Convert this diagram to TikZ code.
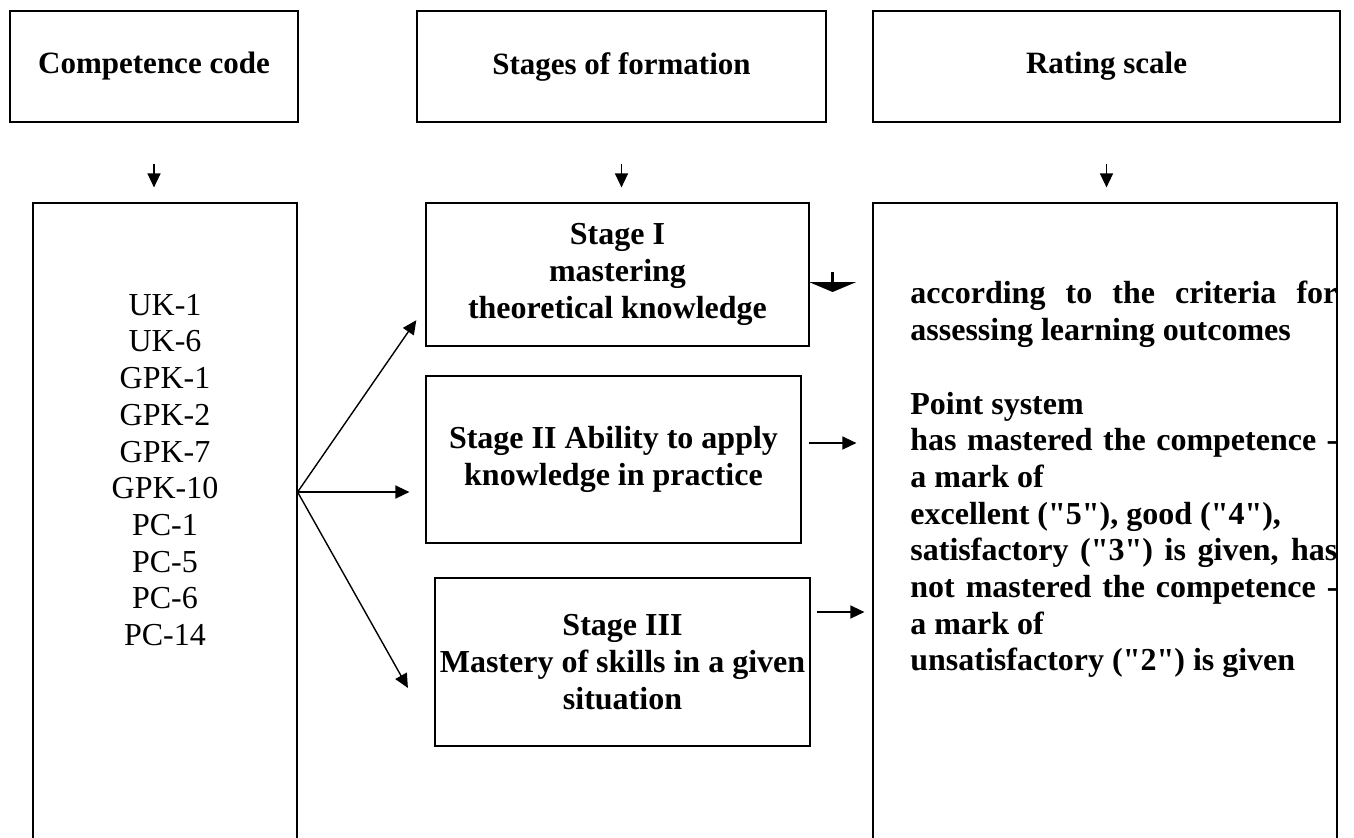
\documentclass[tikz,border=0pt]{standalone}
\usepackage{fontspec}
\setmainfont{Liberation Serif}
\usetikzlibrary{arrows.meta}
\tikzset{
  box/.style={draw, line width=0.6pt, inner sep=0pt, align=center},
  head/.style={box, font=\fontsize{15.5pt}{17.8pt}\selectfont\bfseries, minimum height=55.5pt},
  stagebox/.style={box, font=\fontsize{16pt}{18.35pt}\selectfont\bfseries},
  bigbox/.style={box, minimum height=323.5pt},
  arr/.style={line width=0.7pt, -{Triangle[width=6.5pt,length=7pt]}},
}
\newcommand{\qt}[1]{\textquotedbl#1\textquotedbl}

\begin{document}
\begin{tikzpicture}[x=0.5pt,y=-0.5pt]
  \path[use as bounding box, fill=white] (0,0) rectangle (1354,837);
  \node[head, minimum width=144pt] (code) at (154,66.5) {Competence code};
  \node[head, minimum width=204.5pt] (stages) at (621.5,66.5) {Stages of formation};
  \node[head, minimum width=233.5pt] (scale) at (1106.5,66.5) {Rating scale};

  \node[bigbox, minimum width=132pt] (codelist) at (165,526.5) {};
  \node[bigbox, minimum width=232pt] (rating) at (1105,526.5) {};
  \node[font=\fontsize{16pt}{18.35pt}\selectfont, align=center, inner sep=0pt] (codes) at (165,470)
    {UK-1\\UK-6\\GPK-1\\GPK-2\\GPK-7\\GPK-10\\PC-1\\PC-5\\PC-6\\PC-14};

  \node[stagebox, minimum width=191.5pt, minimum height=71.5pt] (stage1) at (617.5,274.5)
    {Stage I\\mastering\\theoretical knowledge};
  \node[stagebox, minimum width=187.5pt, minimum height=83.5pt] (stage2) at (613.5,459.5)
    {Stage II Ability to apply\\knowledge in practice};
  \node[stagebox, minimum width=187.5pt, minimum height=84pt] (stage3) at (622.5,662)
    {Stage III\\Mastery of skills in a given\\situation};

  \node[anchor=north west, inner sep=0pt, align=left, font=\fontsize{16pt}{18.35pt}\selectfont\bfseries] (criteria) at (910,281)
    {\makebox[213.5pt][s]{according to the criteria for}\\
     assessing learning outcomes\\[18.35pt]
     Point system\\
     \makebox[213.5pt][s]{has mastered the competence -}\\
     a mark of\\
     excellent (\qt{5}), good (\qt{4}),\\
     \makebox[213.5pt][s]{satisfactory (\qt{3}) is given, has}\\
     \makebox[213.5pt][s]{not mastered the competence -}\\
     a mark of\\
     unsatisfactory (\qt{2}) is given};

  \foreach \a/\b in {code/codelist, stages/stage1, scale/rating}
    \draw[arr, shorten <=20.5pt, shorten >=7.5pt] (\a.south) -- (\a.south |- \b.north);

  \coordinate (fork) at ([yshift=17.25pt]codelist.east);
  \foreach \s/\dy/\sh in {stage1/-16.25/8, stage2/-16.25/8, stage3/-36.5/27}
    \draw[arr, shorten >=\sh pt] (fork) -- ([yshift=\dy pt]\s.west);

  \draw[arr, shorten <=3.5pt, shorten >=8pt] ([yshift=8.25pt]stage2.east) -- ([yshift=8.25pt]stage2.east -| rating.west);
  \draw[arr, shorten <=3pt, shorten >=4pt] ([yshift=25pt]stage3.east) -- ([yshift=25pt]stage3.east -| rating.west);

  \draw[line width=1.5pt, -{Triangle[width=23.5pt,length=5pt]}] ([xshift=11.5pt,yshift=1.25pt]stage1.east) -- ++(0pt,-10pt);
\end{tikzpicture}
\end{document}
